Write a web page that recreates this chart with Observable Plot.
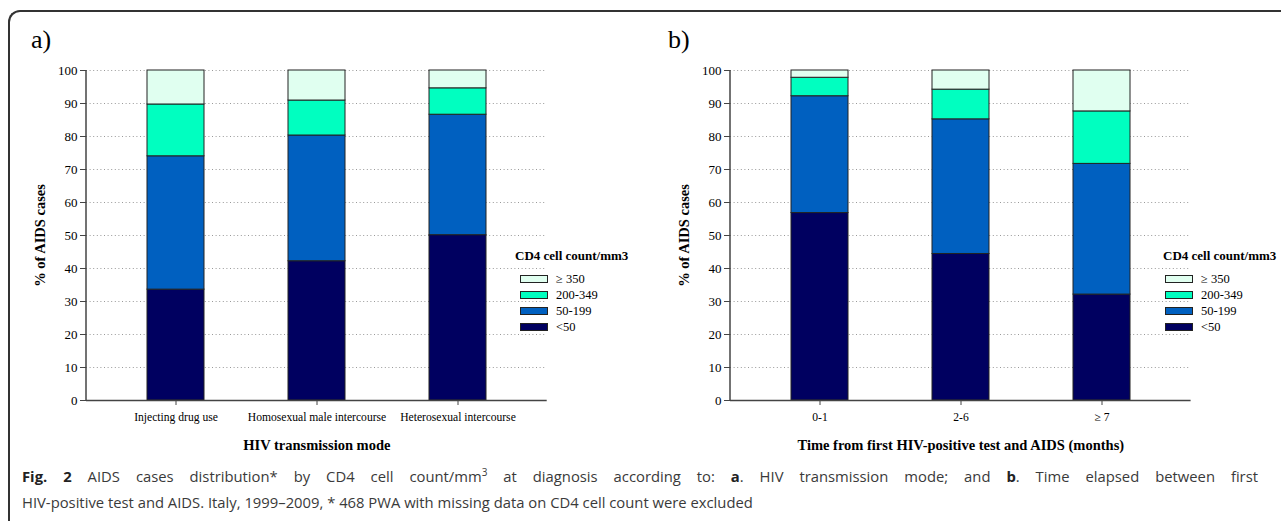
<!DOCTYPE html>
<html>
<head>
<meta charset="utf-8">
<script src="https://cdn.jsdelivr.net/npm/d3@7"></script>
<script src="https://cdn.jsdelivr.net/npm/@observablehq/plot@0.6"></script>
<style>
  html, body { margin: 0; padding: 0; background: #fff; }
  #page { position: relative; width: 1281px; height: 521px; overflow: hidden; background: #fff; }
  #frame { position: absolute; left: 8px; top: 10px; width: 1300px; height: 600px;
           border-left: 2px solid #333; border-top: 2px solid #333; border-top-left-radius: 12px; }
  .panel { position: absolute; top: 0; }
  .plabel { position: absolute; font-family: "Liberation Serif", serif; font-size: 26px; color: #000; }
  .legend { position: absolute; font-family: "Liberation Serif", serif; color: #000; }
  .legend .ttl { position: absolute; white-space: nowrap; font-weight: bold; font-size: 13px; font-family: "Liberation Serif", serif; }
  .legend .sw { position: absolute; width: 28px; height: 8px; border: 1px solid #222; box-sizing: border-box; }
  .legend .lb { position: absolute; white-space: nowrap; font-size: 12.5px; line-height: 14px; font-family: "Liberation Serif", serif; }
  #caption { position: absolute; left: 22px; top: 463px; width: 1236px; font-family: "Open Sans", sans-serif;
             font-size: 14.8px; line-height: 26px; color: #3a3a3a; }
  #caption .l1 { text-align: justify; text-align-last: justify; white-space: normal; }
  #caption .l2 { white-space: nowrap; }
  #caption b { color: #222; }
</style>
</head>
<body>
<div id="page">
  <div id="frame"></div>
  <div class="plabel" style="left:31px; top:25px;">a)</div>
  <div class="plabel" style="left:668px; top:25px;">b)</div>
  <div id="chartA" class="panel" style="left:0px;"></div>
  <div id="chartB" class="panel" style="left:640px;"></div>
  <div id="legA" class="legend" style="left:515px; top:0px;"></div>
  <div id="legB" class="legend" style="left:1163px; top:0px;"></div>
  <div id="caption">
    <div class="l1"><b>Fig. 2</b> AIDS cases distribution* by CD4 cell count/mm<sup style="font-size:10px; line-height:0;">3</sup> at diagnosis according to: <b>a</b>. HIV transmission mode; and <b>b</b>. Time elapsed between first</div>
    <div class="l2">HIV-positive test and AIDS. Italy, 1999–2009, * 468 PWA with missing data on CD4 cell count were excluded</div>
  </div>
</div>
<script>
// ---- data ----
const groups = ["<50", "50-199", "200-349", "≥ 350"];          // stacking order, bottom to top
const legendOrder = ["≥ 350", "200-349", "50-199", "<50"];
const colors = ["#000060", "#0060c0", "#00ffc0", "#e0fff0"];

const modeCategories = ["Injecting drug use", "Homosexual male intercourse", "Heterosexual intercourse"];
const modeLt50    = [33.6, 42.2, 50.1];
const mode50_199  = [40.4, 38.1, 36.5];
const mode200_349 = [15.7, 10.6, 8.0];
const modeGe350   = [10.3, 9.1, 5.4];

const timeCategories = ["0-1", "2-6", "≥ 7"];
const timeLt50    = [56.8, 44.4, 32.1];
const time50_199  = [35.4, 40.8, 39.6];
const time200_349 = [5.6, 9.0, 15.9];
const timeGe350   = [2.2, 5.8, 12.4];

const yTicks = [0, 10, 20, 30, 40, 50, 60, 70, 80, 90, 100];
const gridTicks = [10, 20, 30, 40, 50, 60, 70, 80, 90, 100];

const serif = "'Liberation Serif', 'Times New Roman', serif";

function toLong(cats, series) {
  const rows = [];
  cats.forEach((c, i) => {
    series.forEach((s, j) => rows.push({cat: c, group: groups[j], value: s[i]}));
  });
  return rows;
}

function makeChart(cats, series, xTitle, opts) {
  const data = toLong(cats, series);
  return Plot.plot({
    width: opts.width,
    height: 460,
    marginLeft: opts.marginLeft,
    marginRight: opts.marginRight,
    marginTop: 70,
    marginBottom: 60,
    style: {fontFamily: serif, background: "transparent", overflow: "visible"},
    x: {domain: cats, paddingInner: 0.598, paddingOuter: 0.423, label: null},
    y: {domain: [0, 100], label: null},
    color: {domain: groups, range: colors},
    marks: [
      Plot.gridY(gridTicks, {stroke: "#999", strokeOpacity: 1, strokeDasharray: "1,2.6", strokeWidth: 1}),
      Plot.barY(data, {x: "cat", y: "value", fill: "group", stroke: "#222", strokeWidth: 1, order: groups}),
      Plot.ruleY([0], {stroke: "#444", strokeWidth: 1.5}),
      (index, scales, values, dimensions) => {
        const line = d3.create("svg:line")
          .attr("x1", dimensions.marginLeft).attr("x2", dimensions.marginLeft)
          .attr("y1", scales.y(100)).attr("y2", scales.y(0))
          .attr("stroke", "#444").attr("stroke-width", 1.5);
        return line.node();
      },
      Plot.axisY(yTicks, {tickSize: 6, tickPadding: 3, fontSize: 13, fontFamily: serif, stroke: "#444", fill: "#000", label: null}),
      Plot.axisX({tickSize: 5, tickPadding: 7, fontSize: 11.6, fontFamily: serif, stroke: "#444", fill: "#000", label: null}),
      Plot.text([xTitle], {frameAnchor: "bottom", dy: 45, fontSize: 14.5, fontWeight: "bold", fontFamily: serif, fill: "#000",
                           textAnchor: "middle", lineAnchor: "middle"}),
      Plot.text(["% of AIDS cases"], {frameAnchor: "left", dx: -46, rotate: -90, fontSize: 14.5, fontWeight: "bold",
                           fontFamily: serif, fill: "#000", textAnchor: "middle", lineAnchor: "middle"})
    ]
  });
}

document.getElementById("chartA").appendChild(
  makeChart(modeCategories, [modeLt50, mode50_199, mode200_349, modeGe350], "HIV transmission mode",
            {width: 640, marginLeft: 86, marginRight: 93.3}));
document.getElementById("chartB").appendChild(
  makeChart(timeCategories, [timeLt50, time50_199, time200_349, timeGe350], "Time from first HIV-positive test and AIDS (months)",
            {width: 641, marginLeft: 90, marginRight: 90.4}));

function buildLegend(el, swatchDx, labelDx) {
  const t = document.createElement("div");
  t.className = "ttl"; t.style.left = "0px"; t.style.top = "248px";
  t.textContent = "CD4 cell count/mm3";
  el.appendChild(t);
  legendOrder.forEach((g, i) => {
    const cy = 279 + i * 16;
    const sw = document.createElement("div");
    sw.className = "sw"; sw.style.left = swatchDx + "px"; sw.style.top = (cy - 4) + "px";
    sw.style.background = colors[groups.indexOf(g)];
    el.appendChild(sw);
    const lb = document.createElement("div");
    lb.className = "lb"; lb.style.left = labelDx + "px"; lb.style.top = (cy - 7) + "px";
    lb.textContent = g;
    el.appendChild(lb);
  });
}
buildLegend(document.getElementById("legA"), 5, 41);
buildLegend(document.getElementById("legB"), 2, 38);
</script>
</body>
</html>
